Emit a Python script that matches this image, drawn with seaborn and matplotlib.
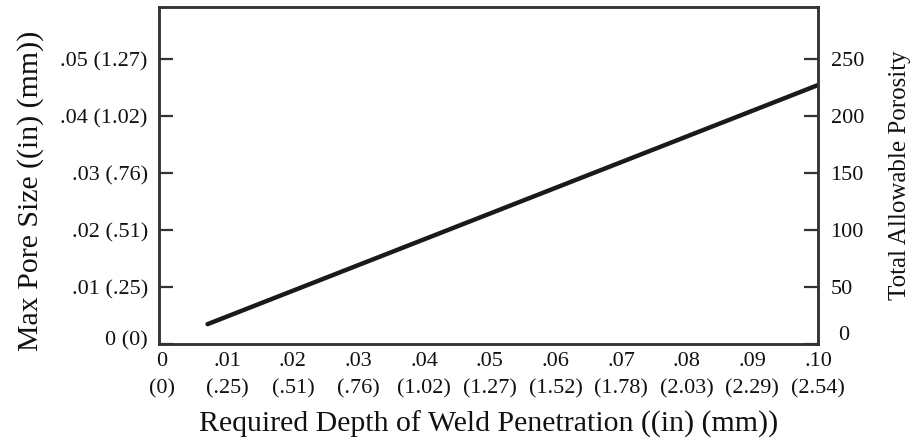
import matplotlib
matplotlib.use("Agg")
import matplotlib.pyplot as plt
import matplotlib.transforms as mtrans
import seaborn as sns
import pandas as pd

# Data
depth_in = [0.007, 0.10]
pore_in = [0.0035, 0.0455]

x_ticks = [0, 0.01, 0.02, 0.03, 0.04, 0.05, 0.06, 0.07, 0.08, 0.09, 0.10]
x_labels = ["0\n(0)", ".01\n(.25)", ".02\n(.51)", ".03\n(.76)", ".04\n(1.02)", ".05\n(1.27)",
            ".06\n(1.52)", ".07\n(1.78)", ".08\n(2.03)", ".09\n(2.29)", ".10\n(2.54)"]
y_ticks = [0, 0.01, 0.02, 0.03, 0.04, 0.05]
y_labels = ["0 (0)", ".01 (.25)", ".02 (.51)", ".03 (.76)", ".04 (1.02)", ".05 (1.27)"]
r_ticks = [0, 50, 100, 150, 200, 250]
r_labels = ["0", "50", "100", "150", "200", "250"]

df = pd.DataFrame({"depth": depth_in, "pore": pore_in})

sns.set_style("white")
plt.rcParams["font.family"] = ["Liberation Serif", "DejaVu Serif"]

fig = plt.figure(figsize=(9.11, 4.40), dpi=100)
ax = fig.add_axes([0.1745, 0.218, 0.7235, 0.766])
dark = "#333333"

sns.lineplot(data=df, x="depth", y="pore", ax=ax, color="#1a1a1a", linewidth=3.2)

ax.set_xlim(-0.0004, 0.10)
ax.set_ylim(0, 0.0592)
ax.set_xticks(x_ticks)
ax.set_xticklabels(x_labels)
ax.set_yticks(y_ticks)
ax.set_yticklabels(y_labels)
ax.tick_params(axis="both", direction="in", length=10, width=1.6, color=dark,
               labelsize=16, labelcolor="#111111")
ax.tick_params(axis="x", pad=6)
ax.tick_params(axis="y", pad=8)
plt.setp(ax.get_xticklabels(), linespacing=1.55)
for s in ax.spines.values():
    s.set_color(dark)
    s.set_linewidth(1.8)

ax.set_xlabel("Required Depth of Weld Penetration ((in) (mm))", fontsize=21.5, color="#111111", labelpad=9)
ax.set_ylabel("Max Pore Size ((in) (mm))", fontsize=21.5, color="#111111", labelpad=8)
ax.yaxis.set_label_coords(-0.174, 0.455)

ax2 = ax.twinx()
ax2.set_ylim(0, 0.0592 * 5000)
ax2.set_yticks(r_ticks)
ax2.set_yticklabels(r_labels)
ax2.tick_params(axis="y", direction="in", length=10, width=1.6, color=dark,
                labelsize=16, labelcolor="#111111", pad=9)
for s in ax2.spines.values():
    s.set_color(dark)
    s.set_linewidth(1.8)
ax2.set_ylabel("Total Allowable Porosity", fontsize=18, color="#111111", labelpad=18)
ax2.grid(False)
ax.grid(False)

# nudge the zero labels as in the reference
l0 = ax.get_yticklabels()[0]
l0.set_transform(l0.get_transform() + mtrans.ScaledTranslation(0, 0.06, fig.dpi_scale_trans))
r0 = ax2.get_yticklabels()[0]
r0.set_transform(r0.get_transform() + mtrans.ScaledTranslation(0.08, 0.11, fig.dpi_scale_trans))

fig.savefig("out.png", dpi=100)
